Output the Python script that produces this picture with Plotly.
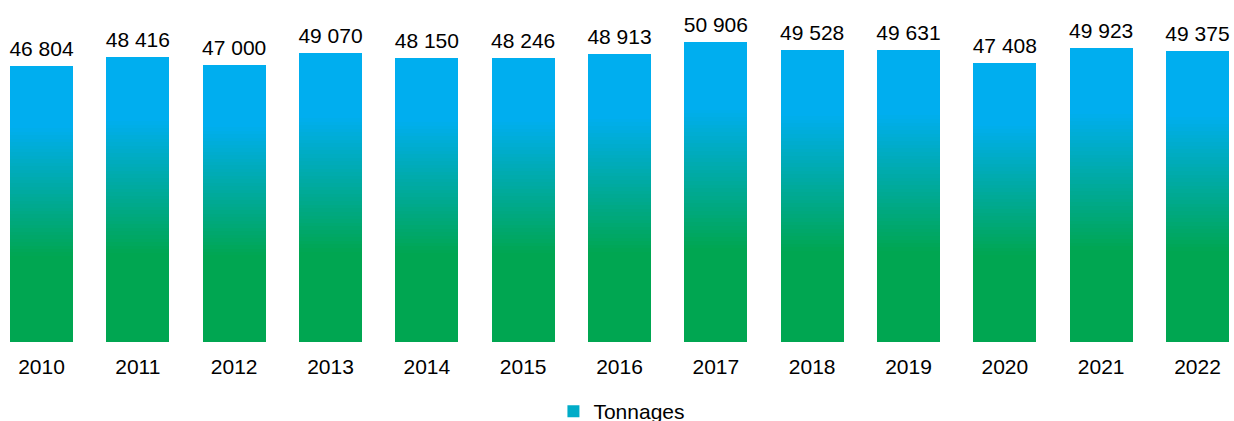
import plotly.graph_objects as go

years = ["2010", "2011", "2012", "2013", "2014", "2015", "2016",
         "2017", "2018", "2019", "2020", "2021", "2022"]
tonnages = [46804, 48416, 47000, 49070, 48150, 48246, 48913,
            50906, 49528, 49631, 47408, 49923, 49375]
labels = ["46 804", "48 416", "47 000", "49 070", "48 150", "48 246", "48 913",
          "50 906", "49 528", "49 631", "47 408", "49 923", "49 375"]

BLUE = (0, 174, 239)
GREEN = (0, 166, 81)
G_LO, G_HI = 0.31, 0.78  # gradient stops (fraction of bar height)
N = 80

def mix(t):
    if t <= G_LO:
        f = 0.0
    elif t >= G_HI:
        f = 1.0
    else:
        f = (t - G_LO) / (G_HI - G_LO)
    c = [round(g + (b - g) * f) for g, b in zip(GREEN, BLUE)]
    return "rgb(%d,%d,%d)" % tuple(c)

fig = go.Figure()
for k in range(N):
    fig.add_trace(go.Bar(
        x=years, y=[v / N for v in tonnages],
        marker=dict(color=mix((k + 0.5) / N), line=dict(width=0)),
        showlegend=False, hoverinfo="skip",
    ))

# legend entry
fig.add_trace(go.Bar(x=[None], y=[None], name="Tonnages",
                     marker=dict(color="rgb(0,172,200)", line=dict(width=0)),
                     showlegend=True))

fig.add_trace(go.Scatter(
    x=years, y=tonnages, mode="markers+text", text=labels,
    textposition="top center",
    marker=dict(size=6, color="rgba(0,0,0,0)"),
    textfont=dict(family="Liberation Sans, Arial, sans-serif", size=21, color="#000000"),
    showlegend=False, hoverinfo="skip", cliponaxis=False,
))

fig.update_layout(
    width=1234, height=421,
    barmode="stack", bargap=0.346,
    plot_bgcolor="white", paper_bgcolor="white",
    margin=dict(l=0, r=0, t=18, b=79),
    font=dict(family="Liberation Sans, Arial, sans-serif", size=21, color="#000000"),
    xaxis=dict(type="category", range=[-0.4308, 12.379], showgrid=False,
               showline=False, zeroline=False, ticks="outside", ticklen=6,
               tickcolor="rgba(0,0,0,0)", automargin=False,
               tickfont=dict(size=21, color="#000000")),
    yaxis=dict(range=[0, 55000], showgrid=False, showticklabels=False,
               zeroline=False, showline=False, automargin=False),
    legend=dict(orientation="h", x=0.504, xanchor="center",
                yref="container", y=0.0226, yanchor="middle",
                font=dict(size=21, color="#000000"), itemwidth=30),
    showlegend=True,
)

fig.write_html("out.html", config={"displayModeBar": False},
               post_script="document.body.style.margin='0';document.body.style.overflow='hidden';")
